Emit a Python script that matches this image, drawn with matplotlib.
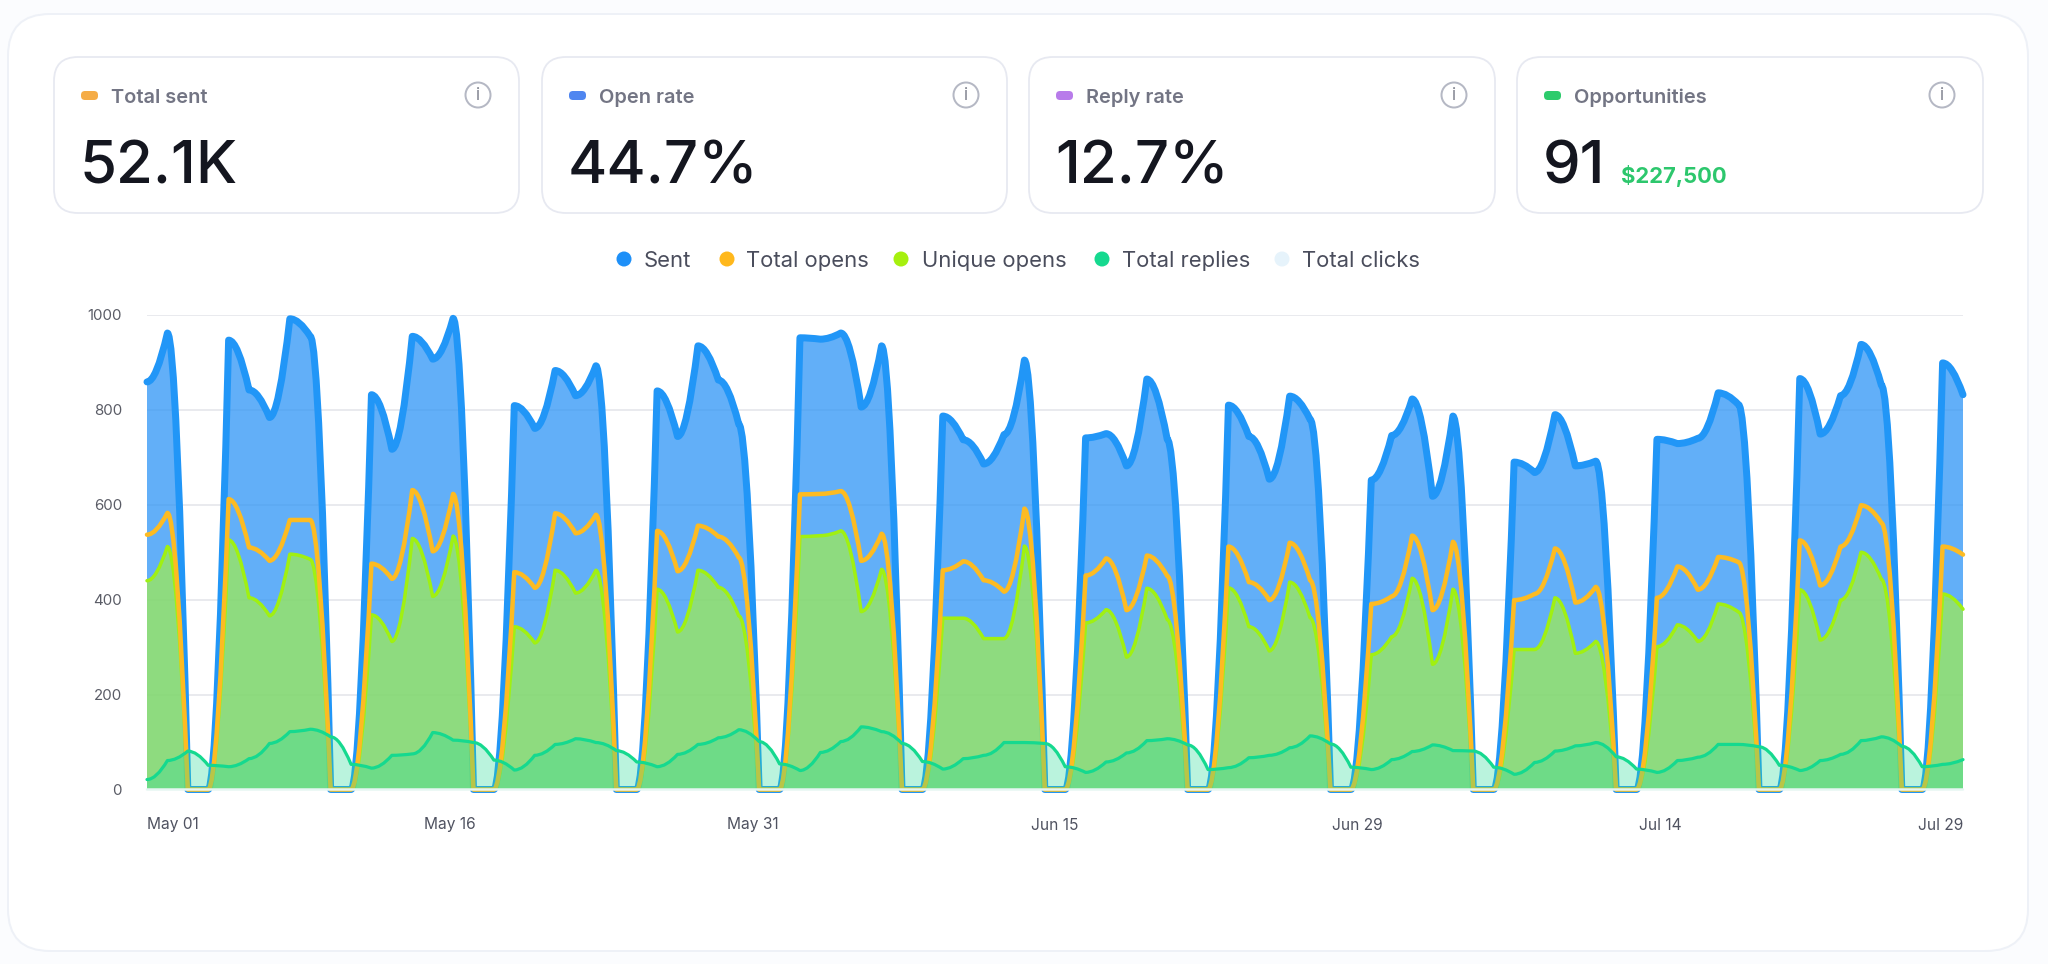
import numpy as np
import matplotlib
matplotlib.use("Agg")
from matplotlib import pyplot as plt
from matplotlib.patches import Circle, FancyBboxPatch, PathPatch
from matplotlib.path import Path

W, H = 2048, 964
DPI = 100

# daily values, May 01 to Jul 29
sent = [859, 962, 0, 0, 947, 842, 784, 992, 955, 0, 0, 832, 717, 955, 907, 993, 0, 0,
        809, 761, 883, 830, 893, 0, 0, 840, 744, 935, 863, 770, 0, 0, 952, 949, 962, 806,
        935, 0, 0, 787, 737, 686, 748, 905, 0, 0, 741, 750, 682, 865, 738, 0, 0, 810,
        744, 654, 829, 780, 0, 0, 652, 746, 823, 618, 787, 0, 0, 690, 668, 790, 682, 692,
        0, 0, 738, 729, 740, 836, 811, 0, 0, 866, 749, 830, 938, 852, 0, 0, 899, 832]
total_opens = [537, 583, 0, 0, 612, 510, 482, 568, 568, 0, 0, 476, 444, 631, 502, 623, 0, 0,
               458, 425, 582, 540, 579, 0, 0, 545, 460, 556, 533, 489, 0, 0, 622, 623, 629, 482,
               539, 0, 0, 462, 481, 441, 417, 592, 0, 0, 451, 487, 378, 493, 450, 0, 0, 512,
               437, 399, 520, 441, 0, 0, 391, 407, 535, 378, 522, 0, 0, 399, 412, 508, 394, 427,
               0, 0, 404, 470, 421, 490, 479, 0, 0, 525, 430, 512, 599, 562, 0, 0, 512, 495]
unique_opens = [440, 512, 0, 0, 526, 404, 366, 496, 485, 0, 0, 368, 312, 529, 407, 534, 0, 0,
                343, 309, 462, 414, 462, 0, 0, 422, 332, 462, 426, 366, 0, 0, 533, 535, 545, 375,
                464, 0, 0, 361, 361, 318, 318, 513, 0, 0, 351, 379, 279, 424, 358, 0, 0, 425,
                343, 292, 437, 362, 0, 0, 284, 322, 445, 264, 422, 0, 0, 295, 295, 404, 287, 312,
                0, 0, 301, 347, 312, 391, 374, 0, 0, 421, 315, 399, 500, 443, 0, 0, 412, 380]
total_replies = [21, 61, 81, 51, 48, 65, 97, 122, 127, 111, 53, 45, 72, 75, 120, 104, 99, 62,
                 41, 72, 95, 107, 99, 82, 58, 48, 74, 95, 109, 126, 101, 54, 40, 78, 101, 132,
                 122, 97, 59, 43, 65, 72, 99, 99, 97, 48, 36, 58, 77, 103, 107, 94, 42, 46,
                 67, 72, 88, 113, 96, 47, 42, 63, 80, 94, 82, 81, 47, 32, 57, 81, 92, 99,
                 69, 43, 36, 61, 68, 95, 95, 90, 51, 40, 61, 74, 103, 111, 91, 48, 53, 63]
total_clicks = [0] * 90

y_ticks = [0, 200, 400, 600, 800, 1000]
x_tick_labels = ["May 01", "May 16", "May 31", "Jun 15", "Jun 29", "Jul 14", "Jul 29"]

legend_names = ["Sent", "Total opens", "Unique opens", "Total replies", "Total clicks"]
legend_colors = ["#1E90F8", "#FFB81C", "#A6F00F", "#15D98F", "#E6F3FB"]

card_titles = ["Total sent", "Open rate", "Reply rate", "Opportunities"]
card_values = ["52.1K", "44.7%", "12.7%", "91"]
card_colors = ["#F5AC46", "#4F86F0", "#B87BEA", "#2DCB6C"]
card_money = "$227,500"

plt.rcParams["font.family"] = ["Inter", "DejaVu Sans"]


def px(v):
    # pixels to points
    return v * 72 / DPI


def curve_path(values, lead=0.45):
    # each day's segment leaves flat and bends into the next day's value
    verts = [(0, values[0])]
    codes = [Path.MOVETO]
    for i in range(1, len(values)):
        verts += [(i - 1 + lead, values[i - 1]), (i, values[i])]
        codes += [Path.CURVE3, Path.CURVE3]
    return np.array(verts, dtype=float), codes


def draw_series(ax, values, color, width, fill=None, alpha=0.0):
    verts, codes = curve_path(values)
    if fill is not None:
        end = len(values) - 1
        area_verts = np.vstack([verts, [end, 0], [0, 0], verts[0]])
        area_codes = codes + [Path.LINETO, Path.LINETO, Path.CLOSEPOLY]
        ax.add_patch(PathPatch(Path(area_verts, area_codes), facecolor=fill, alpha=alpha, lw=0))
    ax.add_patch(PathPatch(Path(verts, codes), fill=False, edgecolor=color, lw=px(width),
                           capstyle="round", joinstyle="round", clip_on=False))


fig = plt.figure(figsize=(W / DPI, H / DPI), dpi=DPI, facecolor="#FBFCFE")

# page layer in pixel coordinates
bg = fig.add_axes([0, 0, 1, 1])
bg.set_xlim(0, W)
bg.set_ylim(H, 0)
bg.axis("off")


def rounded(x0, y0, x1, y1, r, edge, lw):
    bg.add_patch(FancyBboxPatch((x0 + r, y0 + r), x1 - x0 - 2 * r, y1 - y0 - 2 * r,
                                boxstyle=f"round,pad={r},rounding_size={r}",
                                facecolor="white", edgecolor=edge, lw=px(lw)))


rounded(8, 14, 2028, 951, 42, "#EEF1F7", 2)

card_x = [(54, 519), (542, 1007), (1029, 1495), (1517, 1983)]
for (x0, x1), title, value, color in zip(card_x, card_titles, card_values, card_colors):
    rounded(x0, 57, x1, 213, 24, "#E7E9F1", 1.8)
    bg.add_patch(FancyBboxPatch((x0 + 29, 93), 13, 5, boxstyle="round,pad=2,rounding_size=4",
                                facecolor=color, edgecolor="none"))
    bg.text(x0 + 57, 103, title, fontsize=px(20), fontweight="semibold", color="#737584", va="baseline")
    bg.text(x0 + 26, 183, value, fontsize=px(60), fontweight="medium", color="#14161F", va="baseline")
    bg.add_patch(Circle((x1 - 41, 95), 12.5, facecolor="white", edgecolor="#B5B8C4", lw=px(2)))
    bg.text(x1 - 41, 95, "i", fontsize=px(17), color="#80838F", ha="center", va="center")
bg.text(1621, 183, card_money, fontsize=px(22), fontweight="bold", color="#2DC76D", va="baseline")

legend_dot_x = [624, 727, 901, 1102, 1282]
legend_text_x = [644, 746, 922, 1122, 1302]
for dot_x, text_x, name, color in zip(legend_dot_x, legend_text_x, legend_names, legend_colors):
    bg.add_patch(Circle((dot_x, 259), 7.5, facecolor=color, edgecolor="none"))
    bg.text(text_x, 259, name, fontsize=px(22), color="#4A4D5C", va="center_baseline")

# chart
left, right, top, bottom = 147, 1963, 315, 789.5
ax = fig.add_axes([left / W, 1 - bottom / H, (right - left) / W, (bottom - top) / H])
ax.patch.set_alpha(0)
ax.set_xlim(0, len(sent) - 1)
ax.set_ylim(0, 1000)
for spine in ax.spines.values():
    spine.set_visible(False)
ax.set_yticks(y_ticks)
ax.set_xticks(np.linspace(0, len(sent) - 1, len(x_tick_labels)))
ax.set_xticklabels(x_tick_labels)
ax.tick_params(axis="y", length=0, pad=px(25), labelsize=px(15), labelcolor="#5A5C66")
ax.tick_params(axis="x", length=0, pad=px(28), labelsize=px(15.5), labelcolor="#4F5260")
ax.get_xticklabels()[0].set_ha("left")
ax.get_xticklabels()[-1].set_ha("right")
ax.grid(axis="y", color="#E9EAEE", lw=px(2))
ax.set_axisbelow(True)

# total opens goes over the unique opens line on the steep edges
draw_series(ax, sent, "#2196F7", 7, fill="#2E95F6", alpha=0.75)
draw_series(ax, unique_opens, "#A0F012", 3.5, fill="#ACFA2F", alpha=0.6)
draw_series(ax, total_opens, "#FDBB22", 4.5)
draw_series(ax, total_replies, "#15D98F", 3.2, fill="#2BDC98", alpha=0.32)
draw_series(ax, total_clicks, "#E6F6F2", 2.5)

fig.savefig("out.png", dpi=DPI, facecolor=fig.get_facecolor())
